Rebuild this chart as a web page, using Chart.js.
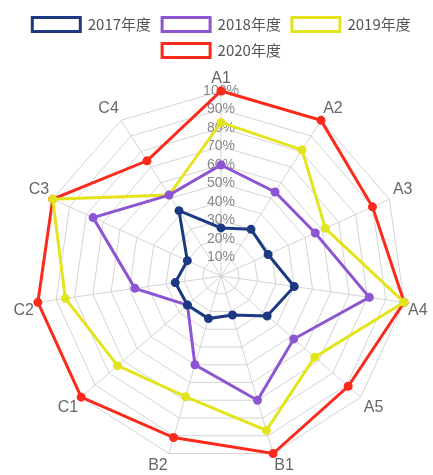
<!DOCTYPE html>
<html>
<head>
<meta charset="utf-8">
<script src="https://cdn.jsdelivr.net/npm/chart.js@4/dist/chart.umd.min.js"></script>
<style>
  html, body { margin: 0; padding: 0; background: #fff; overflow: hidden; }
  /* 캔버스를 창보다 살짝 길게 - 아래 라벨이 원본처럼 가장자리에 붙도록 */
  #wrap { width: 433px; height: 478px; }
</style>
</head>
<body>
<div id="wrap"><canvas id="radarChart" width="433" height="478"></canvas></div>
<script>
// 축 이름
var labels = ['A1', 'A2', 'A3', 'A4', 'A5', 'B1', 'B2', 'C1', 'C2', 'C3', 'C4'];

// 연도별 값 (%)
var y2017 = [26, 30, 28, 40, 33, 22, 24, 24, 25, 20, 42];
var y2018 = [60, 54, 56, 81, 52, 70, 50, 24, 47, 76, 52];
var y2019 = [83, 81, 62, 100, 67, 87, 68, 74, 85, 100, 52];
var y2020 = [100, 100, 90, 100, 91, 100, 91, 100, 100, 100, 74];

var seriesNames = ['2017年度', '2018年度', '2019年度', '2020年度'];
var colors = ['#1c3a82', '#8c55d2', '#e4e41e', '#fb2a1c'];

function makeSet(i, data) {
    return {
        label: seriesNames[i],
        data: data,
        borderColor: colors[i],
        backgroundColor: '#ffffff',
        pointBackgroundColor: colors[i],
        pointBorderColor: colors[i],
        pointRadius: 3,
        borderWidth: 3,
        fill: false
    };
}

var font = '"Noto Sans CJK SC", "Liberation Sans", sans-serif';

document.addEventListener('DOMContentLoaded', function () {
    var ctx = document.getElementById('radarChart').getContext('2d');
    new Chart(ctx, {
        type: 'radar',
        data: {
            labels: labels,
            datasets: [
                makeSet(0, y2017),
                makeSet(1, y2018),
                makeSet(2, y2019),
                makeSet(3, y2020)
            ]
        },
        options: {
            responsive: false,
            animation: false,
            layout: { padding: { top: 6, bottom: 0, left: 10, right: 0 } },
            plugins: {
                legend: {
                    position: 'top',
                    labels: {
                        boxWidth: 48,
                        boxHeight: 14,
                        padding: 11,
                        color: '#555',
                        font: { family: font, size: 15 }
                    }
                },
                tooltip: { enabled: false }
            },
            scales: {
                r: {
                    min: 0,
                    max: 100,
                    ticks: {
                        stepSize: 10,
                        showLabelBackdrop: false,
                        backdropPadding: { top: -7, bottom: -7, left: 0, right: 0 },
                        color: '#888',
                        font: { family: 'Liberation Sans', size: 14 },
                        callback: function (v) { return v + '%'; }
                    },
                    grid: { color: '#d4d4d4', lineWidth: 1 },
                    angleLines: { color: '#d4d4d4', lineWidth: 1 },
                    pointLabels: {
                        color: '#666',
                        padding: 4,
                        font: { family: 'Liberation Sans', size: 16, lineHeight: 1.0 }
                    }
                }
            }
        }
    });
});
</script>
</body>
</html>
